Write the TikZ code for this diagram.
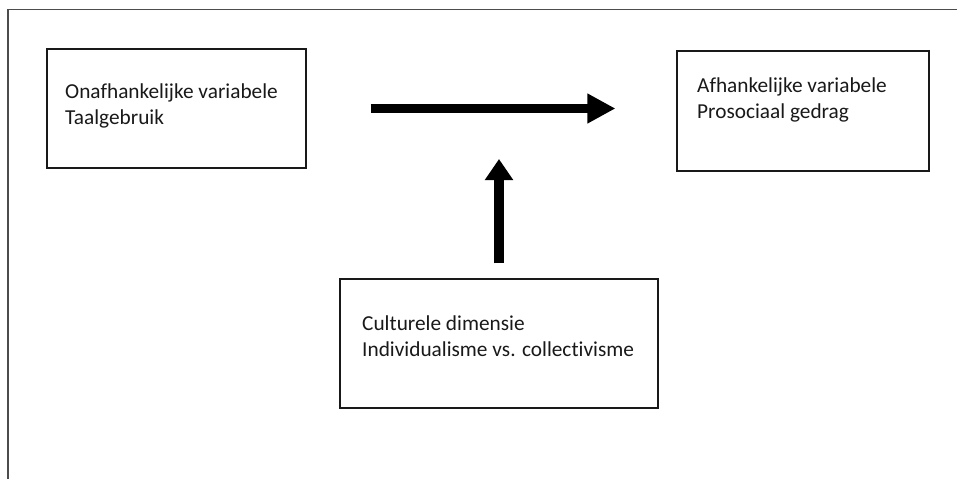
\documentclass[tikz,border=0pt]{standalone}
\usepackage{fontspec}
\setmainfont[Ligatures=NoCommon]{Carlito}
\usepackage{tikz}
\usetikzlibrary{arrows.meta}

\begin{document}
\begin{tikzpicture}[x=1pt,y=-1pt,
  box/.style={shape=rectangle, draw=black!90, line width=1.1pt, inner sep=0pt},
  txt/.style={anchor=base west, align=left, inner sep=0pt, text=black!90,
    font=\fontsize{21.3}{25.5}\selectfont},
  bigarrow/.style={line width=9pt, -{Triangle[length=28pt,width=28pt]}}]
\useasboundingbox (0,0) rectangle (957,479);
\draw[line width=1.5pt, black!70] (957,9.5) -- (8,9.5) -- (8,479);
\node[box, minimum width=259pt, minimum height=119pt] (onafh) at (176.5,108.5) {};
\node[box, minimum width=252pt, minimum height=120pt] (afh) at (803,111) {};
\node[box, minimum width=318pt, minimum height=129pt] (cult) at (499,343.5) {};
\node[txt] (onafhtxt) at (65,124) {Onafhankelijke variabele\\Taalgebruik};
\node[txt] (afhtxt) at (697,118) {Afhankelijke variabele\\Prosociaal gedrag};
\node[txt] (culttxt) at (362,356) {Culturele dimensie\\Individualisme vs. collectivisme};
\coordinate (tip) at (499,159);
\draw [bigarrow, shorten <=64pt, shorten >=61pt] (onafh.east) -- (onafh.east -| afh.west);
\draw [bigarrow, line width=10pt, -{Triangle[length=21pt,width=27pt]}, shorten <=15pt] (cult.north) -- (tip);
\end{tikzpicture}
\end{document}
